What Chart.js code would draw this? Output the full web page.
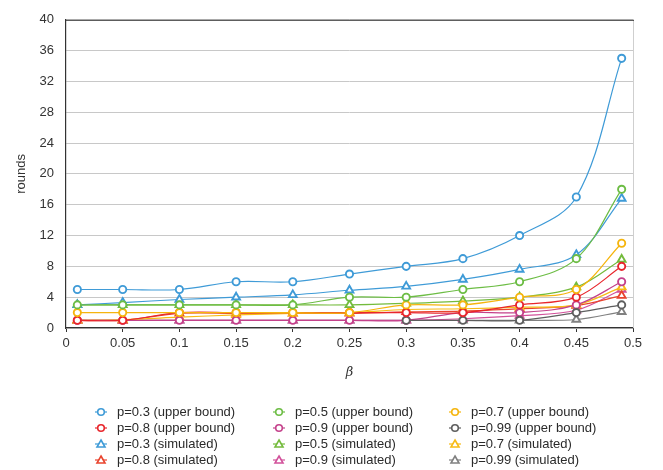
<!DOCTYPE html>
<html>
<head>
<meta charset="utf-8">
<script src="https://cdn.jsdelivr.net/npm/chart.js@4/dist/chart.umd.min.js"></script>
<style>
  html, body { margin: 0; padding: 0; background: #fff; }
  #wrap { width: 663px; height: 470px; }
</style>
</head>
<body>
<div id="wrap"><canvas id="chart" width="663" height="470"></canvas></div>
<script>
// beta values on the x axis
const betas = [0.01, 0.05, 0.1, 0.15, 0.2, 0.25, 0.3, 0.35, 0.4, 0.45, 0.49];
const xTicks = [0, 0.05, 0.1, 0.15, 0.2, 0.25, 0.3, 0.35, 0.4, 0.45, 0.5];
const yTicks = [0, 4, 8, 12, 16, 20, 24, 28, 32, 36, 40];

// upper bounds (circles)
const ub03 = [5, 5, 5, 6, 6, 7, 8, 9, 12, 17, 35];
const ub05 = [3, 3, 3, 3, 3, 4, 4, 5, 6, 9, 18];
const ub07 = [2, 2, 2, 2, 2, 2, 3, 3, 4, 5, 11];
const ub08 = [1, 1, 2, 2, 2, 2, 2, 2, 3, 4, 8];
const ub09 = [1, 1, 1, 1, 1, 1, 1, 2, 2, 3, 6];
const ub099 = [null, null, null, null, null, null, 1, 1, 1, 2, 3];

// simulated (triangles)
const sim03 = [3, 3.3, 3.7, 4, 4.3, 4.9, 5.4, 6.3, 7.6, 9.5, 16.8];
const sim05 = [3, 3, 3, 3, 3, 3, 3.2, 3.5, 4, 5.3, 8.9];
const sim07 = [1, 1.1, 1.4, 1.7, 1.9, 2, 2.4, 2.5, 2.7, 3, 5.3];
const sim08 = [1, 1, 1.9, 1.9, 1.9, 1.9, 2.1, 2.2, 2.5, 2.9, 4.2];
const sim09 = [1, 1, 1, 1, 1, 1, 1, 1.2, 1.6, 2.3, 5];
const sim099 = [1, 1, 1, 1, 1, 1, 1, 1, 1, 1.1, 2.1];

const labels = [
  'p=0.3 (upper bound)', 'p=0.5 (upper bound)', 'p=0.7 (upper bound)',
  'p=0.8 (upper bound)', 'p=0.9 (upper bound)', 'p=0.99 (upper bound)',
  'p=0.3 (simulated)', 'p=0.5 (simulated)', 'p=0.7 (simulated)',
  'p=0.8 (simulated)', 'p=0.9 (simulated)', 'p=0.99 (simulated)'
];
const series = [ub03, ub05, ub07, ub08, ub09, ub099, sim03, sim05, sim07, sim08, sim09, sim099];
const colors = [
  '#3f9bd7', '#6dbd45', '#f5b50e', '#e8262c', '#c4418b', '#5e5e5e',
  '#3f9bd7', '#74bb3c', '#f7bb16', '#e9442e', '#d2519b', '#808080'
];
// draw order: higher is drawn first (triangles under circles)
const drawOrder = [1, 2, 3, 4, 6, 5, 21, 22, 23, 24, 25, 26];

const FONT = '"Liberation Sans", Arial, Helvetica, sans-serif';

function makeDataset(i) {
  const tri = i >= 6;
  return {
    label: labels[i],
    data: betas.map((b, k) => ({ x: b, y: series[i][k] })),
    borderColor: colors[i],
    backgroundColor: '#fff',
    borderWidth: 1.2,
    tension: 0.35,
    pointStyle: tri ? 'triangle' : 'circle',
    pointRadius: tri ? 4.5 : 3.6,
    pointBorderWidth: 1.9,
    pointBackgroundColor: '#fff',
    pointBorderColor: colors[i],
    order: drawOrder[i]
  };
}

// frame: dark top line, light right line
const framePlugin = {
  id: 'frame',
  beforeDatasetsDraw(chart) {
    const { ctx, chartArea: a } = chart;
    ctx.save();
    ctx.lineWidth = 1;
    ctx.strokeStyle = '#cfcfcf';
    ctx.beginPath();
    ctx.moveTo(a.right + 0.5, a.top);
    ctx.lineTo(a.right + 0.5, a.bottom);
    ctx.stroke();
    ctx.strokeStyle = '#333';
    ctx.beginPath();
    ctx.moveTo(a.left, a.top + 0.5);
    ctx.lineTo(a.right + 1, a.top + 0.5);
    ctx.stroke();
    ctx.restore();
  }
};

// three-column legend below the plot
const legendPlugin = {
  id: 'gridLegend',
  afterDraw(chart) {
    const { ctx } = chart;
    const colX = [101, 279, 455];
    const rowY = [412, 428, 444, 460];
    ctx.save();
    ctx.font = '13px ' + FONT;
    ctx.textBaseline = 'middle';
    ctx.textAlign = 'left';
    chart.data.datasets.forEach((ds, i) => {
      const cx = colX[i % 3];
      const cy = rowY[Math.floor(i / 3)];
      ctx.strokeStyle = ds.borderColor;
      ctx.lineWidth = 1.2;
      ctx.beginPath();
      ctx.moveTo(cx - 6, cy);
      ctx.lineTo(cx + 6, cy);
      ctx.stroke();
      ctx.lineWidth = 1.6;
      ctx.fillStyle = '#fff';
      if (ds.pointStyle === 'triangle') {
        ctx.beginPath();
        ctx.moveTo(cx, cy - 4);
        ctx.lineTo(cx + 4, cy + 3);
        ctx.lineTo(cx - 4, cy + 3);
        ctx.closePath();
      } else {
        ctx.beginPath();
        ctx.arc(cx, cy, 3.3, 0, Math.PI * 2);
      }
      ctx.fill();
      ctx.stroke();
      ctx.fillStyle = '#2a2a2a';
      ctx.fillText(ds.label, cx + 16, cy + 0.5);
    });
    ctx.restore();
  }
};

new Chart(document.getElementById('chart'), {
  type: 'line',
  data: { datasets: series.map((s, i) => makeDataset(i)) },
  options: {
    responsive: false,
    animation: false,
    layout: { padding: { top: 8, right: 30, left: 0, bottom: 86 } },
    plugins: {
      legend: { display: false },
      tooltip: { enabled: false }
    },
    scales: {
      x: {
        type: 'linear',
        min: 0,
        max: 0.5,
        afterBuildTicks(scale) { scale.ticks = xTicks.map(v => ({ value: v })); },
        afterFit(scale) { scale.height = 56; },
        border: { display: true, color: '#333', width: 1.2 },
        grid: { drawOnChartArea: false, drawTicks: true, tickLength: 4, color: '#333' },
        ticks: {
          padding: 4,
          color: '#333',
          font: { family: FONT, size: 13 },
          maxRotation: 0,
          callback: v => String(v)
        },
        title: {
          display: true,
          text: 'β',
          color: '#333',
          font: { family: 'DejaVu Serif', size: 13, style: 'italic' },
          padding: { top: 0, bottom: 4 }
        }
      },
      y: {
        min: 0,
        max: 40,
        afterBuildTicks(scale) { scale.ticks = yTicks.map(v => ({ value: v })); },
        afterFit(scale) { scale.width = 66; },
        border: { display: true, color: '#333', width: 1.2 },
        grid: { color: '#c8c8c8', lineWidth: 1, drawTicks: false },
        ticks: {
          padding: 12,
          color: '#333',
          font: { family: FONT, size: 13 }
        },
        title: {
          display: true,
          text: 'rounds',
          color: '#333',
          font: { family: FONT, size: 13 },
          padding: { top: 14, bottom: 0 }
        }
      }
    }
  },
  plugins: [framePlugin, legendPlugin]
});
</script>
</body>
</html>
